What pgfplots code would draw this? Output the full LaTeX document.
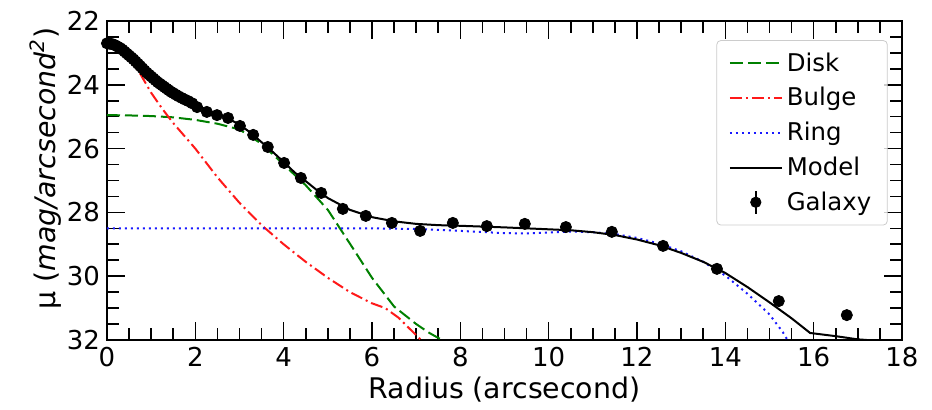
\documentclass[border=0pt]{standalone}
\usepackage{fontspec}
\setmainfont{DejaVu Sans}
\usepackage{pgfplots}
\pgfplotsset{compat=1.18}
\usepackage{pgfplotstable}

\definecolor{mplgreen}{rgb}{0,0.5,0}
\definecolor{mplred}{rgb}{1,0.1,0.1}
\definecolor{mplblue}{rgb}{0.1,0.1,1}

% galaxy profile: radius, mu, error
\pgfplotstableread{
r mu err
0.00 22.70 0.03
0.05 22.71 0.03
0.10 22.72 0.03
0.15 22.74 0.03
0.20 22.77 0.03
0.25 22.81 0.03
0.30 22.85 0.03
0.35 22.90 0.03
0.40 22.96 0.03
0.45 23.02 0.03
0.50 23.08 0.03
0.55 23.14 0.03
0.60 23.20 0.03
0.65 23.27 0.03
0.70 23.34 0.03
0.75 23.41 0.03
0.80 23.48 0.03
0.85 23.55 0.03
0.90 23.62 0.03
0.95 23.68 0.03
1.00 23.74 0.03
1.05 23.80 0.03
1.10 23.86 0.03
1.15 23.92 0.03
1.20 23.97 0.03
1.25 24.02 0.03
1.30 24.07 0.03
1.35 24.12 0.03
1.40 24.17 0.03
1.45 24.22 0.03
1.50 24.26 0.03
1.56 24.31 0.03
1.62 24.36 0.03
1.69 24.41 0.03
1.76 24.46 0.03
1.84 24.51 0.03
1.93 24.58 0.03
2.04 24.70 0.03
2.26 24.85 0.03
2.49 24.95 0.03
2.74 25.04 0.03
3.01 25.29 0.03
3.31 25.57 0.03
3.64 25.95 0.04
4.01 26.45 0.04
4.39 26.92 0.04
4.85 27.39 0.05
5.34 27.89 0.05
5.86 28.11 0.05
6.45 28.33 0.05
7.09 28.58 0.06
7.83 28.33 0.06
8.60 28.43 0.06
9.46 28.36 0.06
10.39 28.46 0.07
11.43 28.61 0.07
12.59 29.05 0.08
13.81 29.77 0.09
15.21 30.78 0.10
16.75 31.22 0.12
}\galaxy

\pgfplotstableread{
r mu
0.00 24.95
0.50 24.96
1.00 24.98
1.50 25.02
2.00 25.10
2.50 25.22
3.00 25.40
3.50 25.85
4.00 26.50
4.50 27.15
5.00 27.92
5.50 28.98
6.00 30.05
6.50 30.95
7.00 31.50
7.30 31.78
7.65 32.05
}\disk

\pgfplotstableread{
r mu
0.00 22.80
0.25 22.90
0.50 23.15
0.75 23.65
1.00 24.25
1.25 24.75
1.50 25.20
2.00 26.00
2.50 26.90
3.00 27.70
3.50 28.40
4.00 29.00
4.50 29.55
5.00 30.05
5.50 30.50
6.00 30.85
6.30 31.00
6.60 31.30
7.00 31.85
7.15 32.05
}\bulge

\pgfplotstableread{
r mu
0.00 28.50
6.00 28.50
7.00 28.52
8.00 28.58
9.00 28.65
9.50 28.66
10.00 28.63
10.50 28.60
11.00 28.62
11.50 28.68
12.00 28.80
12.50 28.98
13.00 29.22
13.50 29.55
14.00 29.98
14.50 30.55
15.00 31.20
15.30 31.75
15.45 32.10
}\ring

\pgfplotstableread{
r mu
0.00 22.70
0.25 22.80
0.50 23.05
0.75 23.40
1.00 23.76
1.25 24.02
1.50 24.26
1.75 24.45
2.00 24.62
2.25 24.78
2.50 24.92
2.75 25.06
3.00 25.25
3.25 25.50
3.50 25.80
3.75 26.10
4.00 26.42
4.25 26.75
4.50 27.02
4.75 27.30
5.00 27.55
5.50 27.92
6.00 28.15
6.50 28.28
7.00 28.36
7.50 28.40
8.00 28.42
9.00 28.47
10.00 28.53
10.50 28.56
11.00 28.62
11.50 28.71
12.00 28.85
12.50 29.03
13.00 29.27
13.50 29.55
14.00 29.90
14.50 30.34
15.00 30.82
15.50 31.32
15.92 31.78
16.50 31.88
17.00 31.98
17.20 32.00
}\model

\begin{document}
\begin{tikzpicture}
\begin{axis}[
  scale only axis,
  width=397.5pt, height=159.5pt,
  xmin=0, xmax=18, ymin=22, ymax=32,
  y dir=reverse,
  xtick={0,2,...,18}, ytick={22,24,...,32},
  minor x tick num=3, minor y tick num=3,
  tick align=inside,
  major tick length=9pt, minor tick length=6pt,
  every tick/.style={black, line width=0.8pt},
  axis line style={line width=1pt},
  clip mode=individual,
  /pgf/number format/assume math mode=true,
  tick label style={font=\fontsize{13}{15}\selectfont},
  label style={font=\fontsize{14.2}{17}\selectfont},
  xlabel={Radius (arcsecond)},
  ylabel={µ (\textit{mag/arcsecond}\textsuperscript{\textit{2}})},
  xlabel style={yshift=2pt},
  ylabel style={yshift=-4pt, xshift=6pt},
  legend style={at={(rel axis cs:0.982,0.94)}, anchor=north east,
    font=\fontsize{12.2}{14}\selectfont,
    draw=black!20, rounded corners=2pt, fill=white, fill opacity=0.8, text opacity=1,
    row sep=2.6pt, inner xsep=6pt, inner ysep=4pt},
  legend cell align=left,
  legend image code/.code={\draw[#1, draw opacity=1] (0pt,0pt) -- (26pt,0pt);},
]
\addplot[mplgreen, line width=1pt, dash pattern=on 6.5pt off 2.5pt] table[x=r,y=mu] {\disk};
\addlegendentry{Disk}
\addplot[mplred, line width=1pt, dash pattern=on 6pt off 2pt on 1pt off 2pt] table[x=r,y=mu] {\bulge};
\addlegendentry{Bulge}
\addplot[mplblue, line width=1pt, dash pattern=on 1pt off 2pt] table[x=r,y=mu] {\ring};
\addlegendentry{Ring}
\addplot[black, line width=1pt] table[x=r,y=mu] {\model};
\addlegendentry{Model}
\addplot[black, only marks, mark=*, mark size=2.8pt,
  legend image code/.code={
    \draw[black, line width=1pt, draw opacity=1] (13pt,-5.75pt) -- (13pt,5.75pt);
    \fill[black, fill opacity=1] (13pt,0pt) circle (2.6pt);},
  error bars/.cd, y dir=both, y explicit,
  error bar style={line width=1pt}, error mark=none]
  table[x=r,y=mu,y error=err] {\galaxy};
\addlegendentry{Galaxy}
\end{axis}
\path ([xshift=-53.5pt,yshift=-35pt]current axis.south west)
  rectangle ([xshift=15pt,yshift=10.5pt]current axis.north east);
\end{tikzpicture}
\end{document}
